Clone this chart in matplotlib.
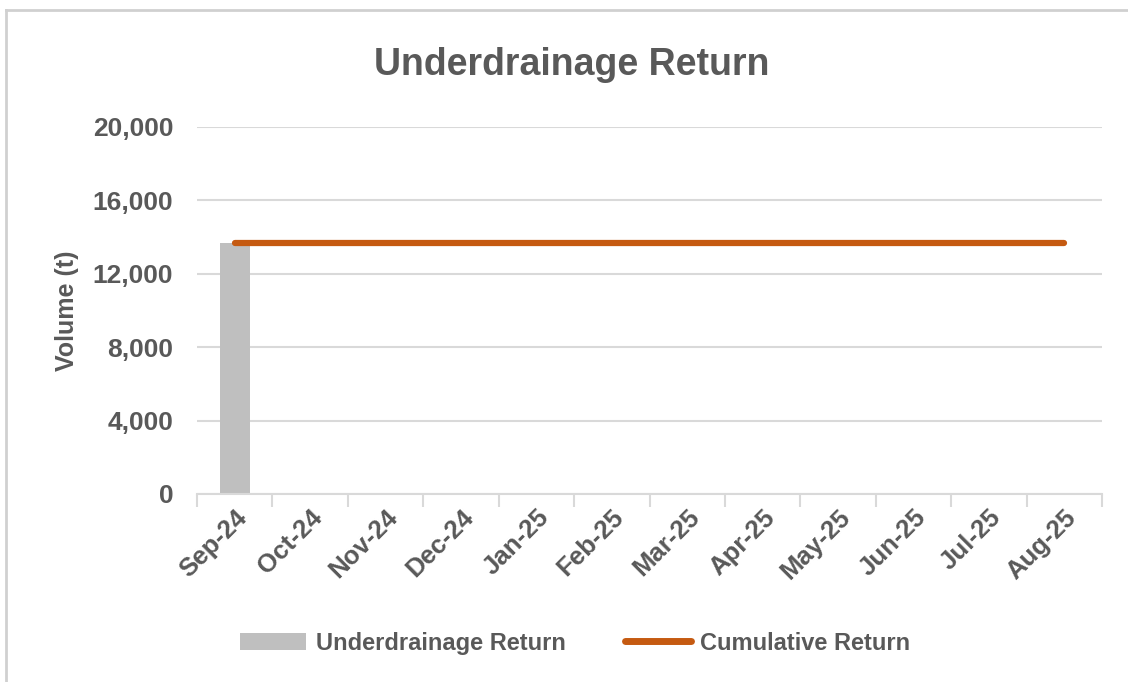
import matplotlib
matplotlib.use("Agg")
import matplotlib.pyplot as plt
from matplotlib.lines import Line2D
from matplotlib.patches import Patch

months = ["Sep-24", "Oct-24", "Nov-24", "Dec-24", "Jan-25", "Feb-25",
          "Mar-25", "Apr-25", "May-25", "Jun-25", "Jul-25", "Aug-25"]
monthly_return = [13700, 0, 0, 0, 0, 0, 0, 0, 0, 0, 0, 0]
cumulative_return = [13700, 13700, 13700, 13700, 13700, 13700,
                     13700, 13700, 13700, 13700, 13700, 13700]
y_ticks = [0, 4000, 8000, 12000, 16000, 20000]

txt_col = "#595959"
grid_col = "#d9d9d9"
bar_col = "#bfbfbf"
line_col = "#c55a11"

plt.rcParams['font.family'] = ['Liberation Sans', 'DejaVu Sans']

fig = plt.figure(figsize=(11.28, 6.82), dpi=100)
ax = fig.add_axes([0.1746, 0.2757, 0.8024, 0.5381])

x = list(range(len(months)))
ax.bar(x, monthly_return, width=0.4, color=bar_col, zorder=2)
ax.plot(x, cumulative_return, color=line_col, linewidth=4.5,
        solid_capstyle="round", zorder=3)

ax.set_xlim(-0.5, len(months) - 0.5)
ax.set_ylim(0, 20000)
ax.set_yticks(y_ticks)
ax.set_yticklabels([f"{v:,}" for v in y_ticks], fontsize=19,
                   fontweight="bold", color=txt_col)
ax.set_xticks(x)
ax.set_xticklabels(months, rotation=45, ha="right", rotation_mode="anchor",
                   fontsize=18.5, fontweight="bold", color=txt_col)
ax.tick_params(axis="y", length=0, pad=17)
ax.tick_params(axis="x", length=0, pad=8)
# ticks between categories
ax.set_xticks([i - 0.5 for i in range(len(months) + 1)], minor=True)
ax.tick_params(axis="x", which="minor", length=9, width=1.5, color=grid_col)

ax.grid(axis="y", color=grid_col, linewidth=1.5, zorder=0)
ax.set_axisbelow(True)
for s in ["top", "right", "left"]:
    ax.spines[s].set_visible(False)
ax.spines["bottom"].set_color(grid_col)
ax.spines["bottom"].set_linewidth(1.5)

ax.set_ylabel("Volume (t)", fontsize=18, fontweight="bold", color=txt_col,
              labelpad=10)
fig.text(0.507, 0.905, "Underdrainage Return", ha="center", va="center",
         fontsize=27, fontweight="bold", color=txt_col)

handles = [Patch(facecolor=bar_col, edgecolor="none"),
           Line2D([0], [0], color=line_col, linewidth=5, solid_capstyle="round")]
fig.legend(handles, ["Underdrainage Return", "Cumulative Return"],
           loc="center", bbox_to_anchor=(0.51, 0.057), ncol=2, frameon=False,
           prop={"weight": "bold", "size": 17},
           labelcolor=txt_col, handlelength=2.8, handletextpad=0.4,
           columnspacing=2.5)

# outer chart border
fig.add_artist(Line2D([0.005, 1.0], [0.985, 0.985], color="#d0d0d0",
                      linewidth=2, transform=fig.transFigure))
fig.add_artist(Line2D([0.005, 0.005], [0.0, 0.985], color="#d0d0d0",
                      linewidth=2, transform=fig.transFigure))

fig.savefig("out.png", dpi=100)
